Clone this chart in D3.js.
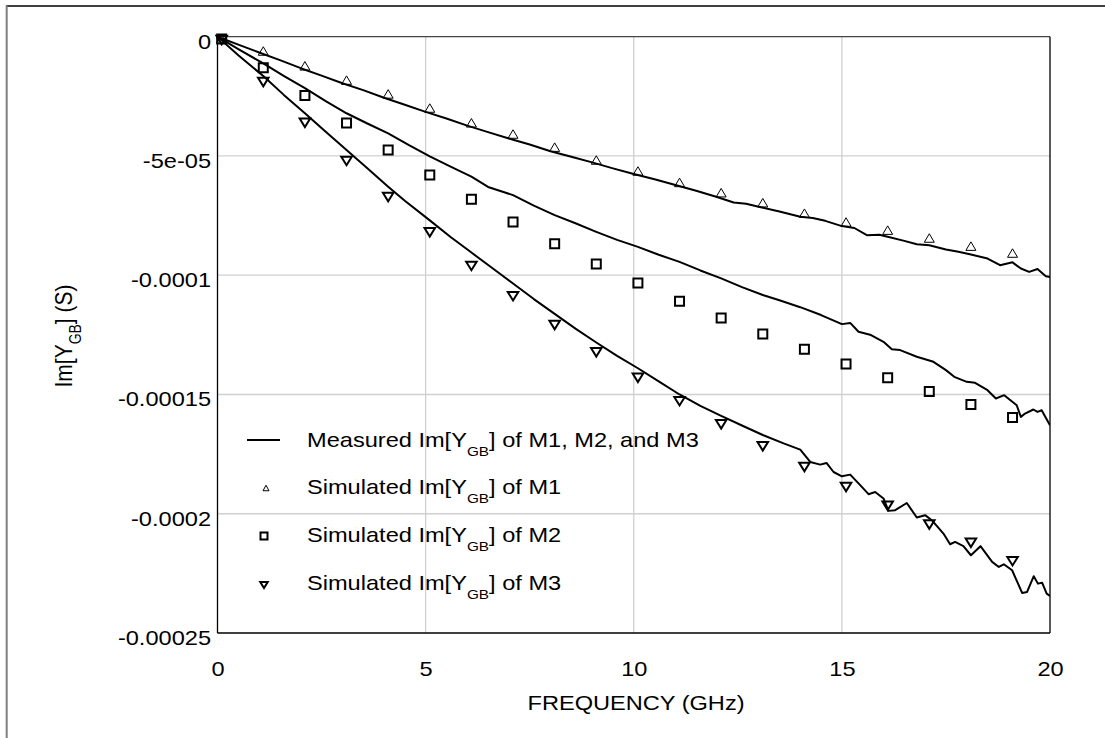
<!DOCTYPE html>
<html>
<head>
<meta charset="utf-8">
<script src="https://cdn.jsdelivr.net/npm/d3@7"></script>
<style>
  html, body { margin: 0; padding: 0; background: #fff; }
  svg { display: block; }
  text { font-family: "Liberation Sans", Arial, sans-serif; fill: #000; }
</style>
</head>
<body>
<svg id="chart" width="1105" height="738"></svg>
<script>
// Values are in units of 1e-5 S; frequencies in GHz.
const UNIT = 1e-5;

// Frequency points of the simulated curves
const simFreq = [0.1, 1.1, 2.1, 3.1, 4.1, 5.1, 6.1, 7.1, 8.1, 9.1,
                 10.1, 11.1, 12.1, 13.1, 14.1, 15.1, 16.1, 17.1, 18.1, 19.1];

// Simulated Im[Y_GB] of M1, M2, M3
const simM1 = [-0.10, -0.60, -1.22, -1.82, -2.40, -2.99, -3.61, -4.08, -4.63, -5.17,
               -5.63, -6.11, -6.54, -6.96, -7.40, -7.77, -8.11, -8.44, -8.78, -9.07];
const simM2 = [-0.10, -1.30, -2.47, -3.62, -4.75, -5.80, -6.82, -7.77, -8.68, -9.53,
               -10.33, -11.09, -11.79, -12.46, -13.10, -13.72, -14.30, -14.87, -15.42, -15.96];
const simM3 = [-0.14, -1.90, -3.61, -5.21, -6.72, -8.20, -9.61, -10.88, -12.09, -13.23,
               -14.30, -15.28, -16.25, -17.17, -18.04, -18.88, -19.67, -20.45, -21.22, -21.99];

// Measured Im[Y_GB] curves: [frequency, value]
const measM1 = [[0,0],[0.5,-0.33],[1,-0.66],[1.5,-0.98],[2,-1.32],[2.5,-1.63],[3,-1.95],[3.5,-2.24],
  [4,-2.56],[4.5,-2.85],[5,-3.15],[5.5,-3.43],[6,-3.73],[6.5,-4.0],[7,-4.27],[7.5,-4.52],[8,-4.80],
  [8.5,-5.03],[9,-5.27],[9.5,-5.52],[10,-5.76],[10.5,-5.98],[11,-6.22],[11.5,-6.46],[12,-6.72],
  [12.4,-6.95],[12.7,-7.0],[13,-7.13],[13.5,-7.33],[14,-7.55],[14.3,-7.60],[14.6,-7.72],[15,-7.94],
  [15.3,-8.02],[15.6,-8.32],[15.9,-8.30],[16.1,-8.39],[16.5,-8.56],[16.8,-8.70],[17.1,-8.74],
  [17.5,-8.92],[17.8,-9.02],[18.1,-9.13],[18.5,-9.30],[18.8,-9.58],[19.1,-9.46],[19.3,-9.72],
  [19.5,-9.86],[19.7,-9.74],[19.9,-10.04],[20,-10.07]];
const measM2 = [[0,0],[0.5,-0.52],[1.1,-1.12],[1.6,-1.65],[2.1,-2.16],[2.6,-2.70],[3.1,-3.21],
  [3.6,-3.64],[4.1,-4.05],[4.6,-4.55],[5.1,-5.02],[5.6,-5.45],[6.1,-5.87],[6.5,-6.30],[7.1,-6.64],
  [7.6,-7.08],[8.1,-7.48],[8.6,-7.82],[9.1,-8.18],[9.6,-8.52],[10.1,-8.81],[10.6,-9.14],[11.1,-9.44],
  [11.6,-9.80],[12.1,-10.13],[12.6,-10.50],[13.1,-10.83],[13.5,-11.05],[14.0,-11.34],[14.5,-11.67],
  [15.0,-12.05],[15.2,-12.0],[15.4,-12.37],[15.7,-12.51],[16.0,-12.79],[16.2,-13.10],[16.4,-13.14],
  [16.8,-13.42],[17.2,-13.63],[17.5,-13.98],[17.7,-14.26],[18.0,-14.47],[18.2,-14.51],[18.5,-14.82],
  [18.7,-15.17],[18.9,-15.03],[19.2,-15.45],[19.3,-15.94],[19.4,-15.80],[19.6,-15.63],[19.7,-15.73],
  [19.8,-15.66],[20.0,-16.29]];
const measM3 = [[0,0],[0.5,-0.78],[1.1,-1.65],[1.6,-2.45],[2.1,-3.21],[2.6,-3.98],[3.1,-4.75],
  [3.6,-5.52],[4.1,-6.29],[4.5,-6.88],[5.1,-7.70],[5.6,-8.40],[6.1,-9.05],[6.6,-9.70],[7.1,-10.35],
  [7.6,-11.00],[8.1,-11.62],[8.6,-12.24],[9.1,-12.82],[9.6,-13.38],[10.1,-13.90],[10.6,-14.45],
  [11.1,-15.00],[11.6,-15.48],[12.1,-15.90],[12.6,-16.30],[13.1,-16.70],[13.6,-17.05],[14.0,-17.31],
  [14.24,-17.83],[14.48,-17.94],[14.63,-17.87],[14.80,-18.25],[15.0,-18.43],[15.2,-18.36],
  [15.44,-18.80],[15.64,-19.18],[15.8,-19.09],[16.0,-19.36],[16.12,-19.88],[16.28,-19.85],
  [16.56,-19.55],[16.8,-20.16],[17.0,-20.06],[17.16,-20.27],[17.44,-20.83],[17.6,-21.28],
  [17.72,-21.18],[17.92,-21.36],[18.1,-21.74],[18.33,-21.36],[18.61,-22.02],[18.77,-22.23],
  [18.89,-22.12],[19.09,-22.37],[19.33,-23.32],[19.45,-23.28],[19.61,-22.62],[19.71,-22.93],
  [19.81,-22.89],[19.92,-23.35],[20.0,-23.45]];

// Axis ticks
const xTicks = [0, 5, 10, 15, 20];
const xTickLabels = ["0", "5", "10", "15", "20"];
const yTicks = [0, -5e-5, -1e-4, -1.5e-4, -2e-4, -2.5e-4];
const yTickLabels = ["0", "-5e-05", "-0.0001", "-0.00015", "-0.0002", "-0.00025"];

// Legend entries
const legendLabels = ["Measured Im[Y", "Simulated Im[Y", "Simulated Im[Y", "Simulated Im[Y"];
const legendTails = ["] of M1, M2, and M3", "] of M1", "] of M2", "] of M3"];

// ---------------------------------------------------------------
const svg = d3.select("#chart");
const SX = 1.18; // horizontal text stretch
const plot = { left: 217.5, right: 1050, top: 36.7, bottom: 633 };

const x = d3.scaleLinear().domain([0, 20]).range([plot.left, plot.right]);
const y = d3.scaleLinear().domain([0, -2.5e-4]).range([plot.top, plot.bottom]);

// Outer frame
svg.append("line").attr("x1", 6).attr("x2", 1105).attr("y1", 6).attr("y2", 6)
  .attr("stroke", "#000").attr("stroke-width", 1.5);
svg.append("line").attr("x1", 6.7).attr("x2", 6.7).attr("y1", 5.5).attr("y2", 738)
  .attr("stroke", "#808080").attr("stroke-width", 2);

// Grid lines
const grid = svg.append("g");
grid.selectAll("line.gx").data(xTicks.slice(1, -1)).join("line")
  .attr("x1", d => x(d)).attr("x2", d => x(d))
  .attr("y1", plot.top).attr("y2", plot.bottom)
  .attr("stroke", "#d0d0d0").attr("stroke-width", 1.3);
grid.selectAll("line.gy").data(yTicks.slice(1, -1)).join("line")
  .attr("y1", d => y(d)).attr("y2", d => y(d))
  .attr("x1", plot.left).attr("x2", plot.right)
  .attr("stroke", "#d0d0d0").attr("stroke-width", 1.3);

// Axes (labels only)
const xAxis = d3.axisBottom(x).tickValues(xTicks)
  .tickFormat((d, i) => xTickLabels[i]).tickSize(0).tickPadding(0);
const gx = svg.append("g").attr("transform", `translate(0,${plot.bottom})`).call(xAxis);
gx.select(".domain").remove();
gx.selectAll("text").attr("font-size", 20).attr("y", 43).attr("dy", 0)
  .attr("font-family", "Liberation Sans, Arial, sans-serif")
  .attr("transform", `scale(${SX},1)`);

const yAxis = d3.axisLeft(y).tickValues(yTicks)
  .tickFormat((d, i) => yTickLabels[i]).tickSize(0).tickPadding(0);
const gy = svg.append("g").attr("transform", `translate(${plot.left},0)`).call(yAxis);
gy.select(".domain").remove();
gy.selectAll("text").attr("font-size", 20).attr("x", -6.5 / SX).attr("dy", 11.5)
  .attr("font-family", "Liberation Sans, Arial, sans-serif")
  .attr("transform", `scale(${SX},1)`);

// Plot frame
svg.append("line").attr("x1", plot.left).attr("x2", plot.right).attr("y1", plot.top).attr("y2", plot.top)
  .attr("stroke", "#444").attr("stroke-width", 1.3);
svg.append("line").attr("x1", plot.left).attr("x2", plot.right).attr("y1", plot.bottom).attr("y2", plot.bottom)
  .attr("stroke", "#000").attr("stroke-width", 1.3);
svg.append("line").attr("x1", plot.left).attr("x2", plot.left).attr("y1", plot.top).attr("y2", plot.bottom)
  .attr("stroke", "#000").attr("stroke-width", 1.3);
svg.append("line").attr("x1", plot.right).attr("x2", plot.right).attr("y1", plot.top).attr("y2", plot.bottom)
  .attr("stroke", "#000").attr("stroke-width", 1.3);

// Axis titles
svg.append("g").attr("transform", `translate(636,709.5) scale(${SX},1)`)
  .append("text").attr("text-anchor", "middle").attr("font-size", 20).text("FREQUENCY (GHz)");

const yt = svg.append("g").attr("transform", `translate(72,336) scale(${SX},1) rotate(-90)`)
  .append("text").attr("text-anchor", "middle").attr("font-size", 21);
yt.append("tspan").text("Im[Y");
yt.append("tspan").attr("font-size", 14).attr("dy", 8).text("GB");
yt.append("tspan").attr("dy", -8).text("] (S)");

// Clip path for data
svg.append("clipPath").attr("id", "plotclip").append("rect")
  .attr("x", plot.left).attr("y", plot.top - 8)
  .attr("width", plot.right - plot.left).attr("height", plot.bottom - plot.top + 8);

const dataG = svg.append("g").attr("clip-path", "url(#plotclip)");

// Measured curves
const line = d3.line().x(d => x(d[0])).y(d => y(d[1] * UNIT));
[measM1, measM2, measM3].forEach(series => {
  dataG.append("path").datum(series).attr("d", line)
    .attr("fill", "none").attr("stroke", "#000").attr("stroke-width", 2)
    .attr("stroke-linejoin", "round");
});

// Marker shapes
function triUp(w, h) { return `M0,${-h/2}L${w/2},${h/2}L${-w/2},${h/2}Z`; }
function triDown(w, h) { return `M${-w/2},${-h/2}L${w/2},${-h/2}L0,${h/2}Z`; }
function square(s) { return `M${-s/2},${-s/2}H${s/2}V${s/2}H${-s/2}Z`; }

const markerDefs = [
  { vals: simM1, d: triUp(10, 8.5), sw: 1 },
  { vals: simM2, d: square(9), sw: 2 },
  { vals: simM3, d: triDown(10.5, 8.5), sw: 2 }
];
markerDefs.forEach(m => {
  svg.append("g").selectAll("path").data(m.vals).join("path")
    .attr("transform", (d, i) => `translate(${x(simFreq[i])},${y(d * UNIT)})`)
    .attr("d", m.d).attr("fill", "none").attr("stroke", "#000")
    .attr("stroke-width", m.sw).attr("stroke-linejoin", "miter");
});

// Legend
const legend = svg.append("g");
const rowY = [446.7, 494.3, 541.9, 589.5];
legendLabels.forEach((lab, i) => {
  const t = legend.append("g").attr("transform", `translate(307,${rowY[i]}) scale(${SX},1)`)
    .append("text").attr("font-size", 20);
  t.append("tspan").text(lab);
  t.append("tspan").attr("font-size", 13).attr("dy", 9).text("GB");
  t.append("tspan").attr("dy", -9).text(legendTails[i]);
});
legend.append("line").attr("x1", 247).attr("x2", 280).attr("y1", 440).attr("y2", 440)
  .attr("stroke", "#000").attr("stroke-width", 2);
legend.append("path").attr("transform", "translate(266,488)").attr("d", triUp(6, 5.5))
  .attr("fill", "none").attr("stroke", "#000").attr("stroke-width", 1);
legend.append("path").attr("transform", "translate(264,536)").attr("d", square(7))
  .attr("fill", "none").attr("stroke", "#000").attr("stroke-width", 2);
legend.append("path").attr("transform", "translate(264,585)").attr("d", triDown(7.5, 6))
  .attr("fill", "none").attr("stroke", "#000").attr("stroke-width", 2);
</script>
</body>
</html>
